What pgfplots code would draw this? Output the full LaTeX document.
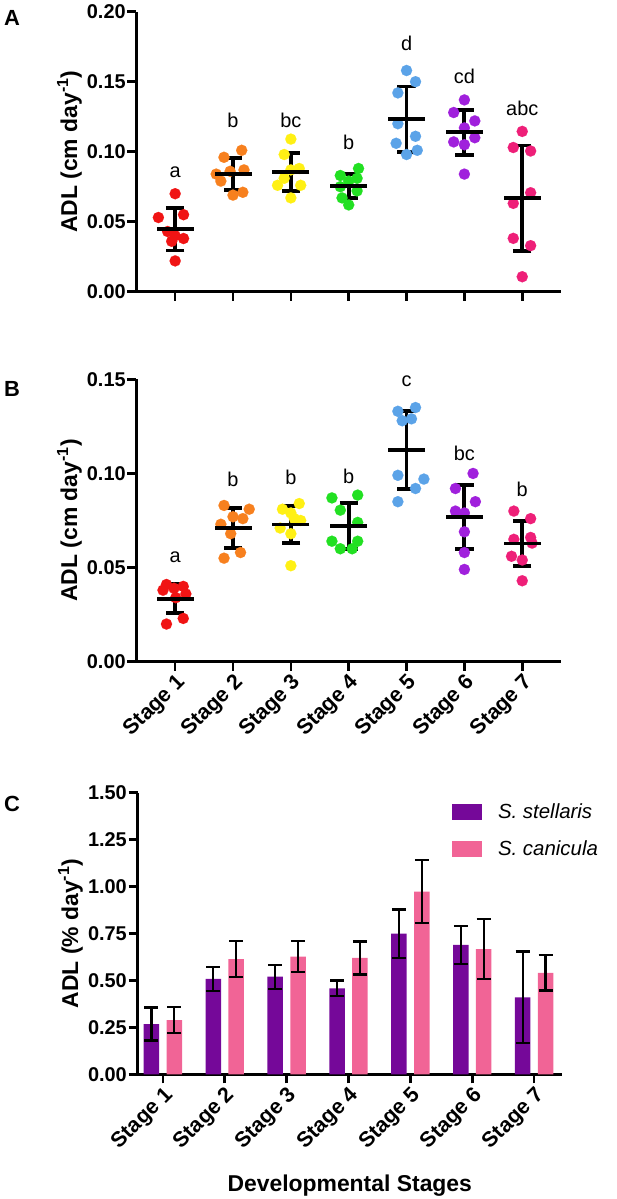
\documentclass[border=0pt]{standalone}
\usepackage{pgfplots}
\pgfplotsset{compat=1.18}
\usepackage{fontspec}
\setmainfont{Liberation Sans}
\definecolor{cRed}{RGB}{240,20,20}
\definecolor{cOrange}{RGB}{247,128,30}
\definecolor{cYellow}{RGB}{255,240,20}
\definecolor{cGreen}{RGB}{34,224,34}
\definecolor{cBlue}{RGB}{91,163,232}
\definecolor{cViolet}{RGB}{160,32,220}
\definecolor{cPink}{RGB}{238,31,120}
\definecolor{barPurple}{RGB}{117,8,153}
\definecolor{barPink}{RGB}{241,100,150}
\newcommand{\fs}[1]{\fontsize{#1}{#1}\selectfont}

% ---------- Panel A data ----------
\pgfplotstableread{
x y
1.00 0.070
0.71 0.053
1.145 0.055
0.87 0.043
1.00 0.040
1.145 0.038
0.94 0.036
1.00 0.022
}\AsOne
\pgfplotstableread{
x y
1.844 0.096
2.15 0.101
1.71 0.084
1.95 0.086
2.19 0.087
1.79 0.079
2.00 0.069
2.17 0.071
}\AsTwo
\pgfplotstableread{
x y
3.00 0.109
2.885 0.098
3.145 0.088
3.00 0.087
2.885 0.081
2.77 0.076
3.17 0.076
3.00 0.067
}\AsThree
\pgfplotstableread{
x y
4.17 0.088
3.855 0.083
4.145 0.081
4.00 0.079
3.855 0.075
4.145 0.072
3.885 0.067
4.00 0.062
}\AsFour
\pgfplotstableread{
x y
5.00 0.158
5.155 0.150
4.85 0.142
4.85 0.120
5.155 0.111
4.82 0.106
5.185 0.101
5.00 0.098
}\AsFive
\pgfplotstableread{
x y
6.00 0.137
5.815 0.128
6.18 0.122
6.00 0.117
6.18 0.110
5.815 0.107
6.00 0.105
6.00 0.084
}\AsSix
\pgfplotstableread{
x y
7.00 0.1145
6.845 0.103
7.145 0.1005
7.145 0.0707
6.845 0.0631
6.845 0.0381
7.145 0.0329
7.00 0.0107
}\AsSeven
\pgfplotstableread{
x y e
1 0.0446 0.0151
2 0.0841 0.0112
3 0.0853 0.0136
4 0.0755 0.0085
5 0.1233 0.0233
6 0.1138 0.0160
7 0.0667 0.0377
}\Ameans

% ---------- Panel B data ----------
\pgfplotstableread{
x y
0.85 0.041
1.14 0.040
0.79 0.038
0.98 0.039
1.185 0.036
1.01 0.034
1.14 0.023
0.85 0.020
}\BsOne
\pgfplotstableread{
x y
1.845 0.083
2.28 0.081
2.00 0.077
2.17 0.076
1.79 0.073
1.96 0.068
2.13 0.058
1.845 0.055
}\BsTwo
\pgfplotstableread{
x y
3.145 0.084
2.855 0.081
3.00 0.079
3.17 0.075
3.06 0.076
2.815 0.071
3.00 0.068
3.00 0.051
}\BsThree
\pgfplotstableread{
x y
3.71 0.087
4.155 0.0885
3.855 0.0805
4.155 0.074
3.71 0.064
4.155 0.064
3.855 0.060
4.06 0.060
}\BsFour
\pgfplotstableread{
x y
4.85 0.133
5.155 0.135
4.925 0.128
5.085 0.129
4.85 0.099
5.30 0.097
5.155 0.092
4.85 0.085
}\BsFive
\pgfplotstableread{
x y
6.15 0.100
5.845 0.092
6.19 0.085
5.845 0.080
6.00 0.079
6.00 0.069
6.00 0.058
6.00 0.049
}\BsSix
\pgfplotstableread{
x y
6.855 0.080
7.145 0.076
6.855 0.065
7.145 0.066
7.17 0.063
6.815 0.056
7.00 0.054
7.00 0.043
}\BsSeven
\pgfplotstableread{
x y e
1 0.0335 0.0076
2 0.0712 0.0106
3 0.0729 0.0100
4 0.0720 0.0122
5 0.1124 0.0208
6 0.0770 0.0170
7 0.0628 0.0118
}\Bmeans

% ---------- Panel C data ----------
\pgfplotstableread{
x y e
1 0.268 0.088
2 0.509 0.064
3 0.520 0.064
4 0.458 0.041
5 0.749 0.129
6 0.689 0.101
7 0.410 0.244
}\Cstel
\pgfplotstableread{
x y e
1 0.289 0.069
2 0.614 0.097
3 0.627 0.082
4 0.620 0.088
5 0.973 0.167
6 0.667 0.161
7 0.540 0.094
}\Ccan

\pgfplotsset{
  panel/.style={
    scale only axis,
    axis x line*=bottom, axis y line*=left,
    axis line style={line width=2.6bp, -},
    every tick/.style={line width=2.6bp, black},
    major tick length=9bp, tick align=outside,
    xtick={1,2,3,4,5,6,7},
    ymin=0, clip=false,
    yticklabel style={font=\bfseries\fs{20}, inner sep=1.5bp,
      /pgf/number format/.cd, fixed, fixed zerofill, precision=2, assume math mode=true},
    xticklabel style={font=\bfseries\fs{21.5}, rotate=45, anchor=north east, inner sep=1bp},
    ylabel style={font=\bfseries\fs{23}, at={(axis description cs:-0.128,0.5)}, anchor=south, inner sep=0pt},
  },
  dots/.style={only marks, mark=*, mark size=5.6bp, color=#1, mark options={draw=#1, fill=#1, line width=0.1bp}},
  meanbar/.style={only marks, mark=-, mark size=18.5bp, black, mark options={line width=3.8bp, black},
    error bars/.cd, y dir=both, y explicit,
    error bar style={line width=3.8bp, black},
    error mark options={rotate=90, mark size=9.2bp, line width=3.8bp, black}},
}

\begin{document}
\begin{tikzpicture}
\useasboundingbox (0,0) rectangle (617bp,-1199bp);

% ---------------- Panel A ----------------
\begin{axis}[panel, at={(136.4bp,-291.7bp)}, anchor=south west,
  width=424.6bp, height=280bp,
  xmin=0.33, xmax=7.67, ymax=0.20,
  ytick={0,0.05,0.10,0.15,0.20},
  xticklabels={},
  ylabel={ADL (cm day\textsuperscript{-1})}]
\addplot[dots=cRed] table[x=x,y=y]{\AsOne};
\addplot[dots=cOrange] table[x=x,y=y]{\AsTwo};
\addplot[dots=cYellow] table[x=x,y=y]{\AsThree};
\addplot[dots=cGreen] table[x=x,y=y]{\AsFour};
\addplot[dots=cBlue] table[x=x,y=y]{\AsFive};
\addplot[dots=cViolet] table[x=x,y=y]{\AsSix};
\addplot[dots=cPink] table[x=x,y=y]{\AsSeven};
\addplot[meanbar] table[x=x,y=y,y error=e]{\Ameans};
\begin{scope}[every node/.style={font=\fs{20}}]
\node at (axis cs:1,0.0855) {a};
\node at (axis cs:2,0.1226) {b};
\node at (axis cs:3,0.1226) {bc};
\node at (axis cs:4,0.1064) {b};
\node at (axis cs:5,0.1774) {d};
\node at (axis cs:6,0.1540) {cd};
\node at (axis cs:7,0.1310) {abc};
\end{scope}
\end{axis}

% ---------------- Panel B ----------------
\begin{axis}[panel, at={(136.4bp,-661.7bp)}, anchor=south west,
  width=424.6bp, height=282.4bp,
  xmin=0.33, xmax=7.67, ymax=0.15,
  ytick={0,0.05,0.10,0.15},
  xticklabels={Stage 1,Stage 2,Stage 3,Stage 4,Stage 5,Stage 6,Stage 7},
  ylabel={ADL (cm day\textsuperscript{-1})}]
\addplot[dots=cRed] table[x=x,y=y]{\BsOne};
\addplot[dots=cOrange] table[x=x,y=y]{\BsTwo};
\addplot[dots=cYellow] table[x=x,y=y]{\BsThree};
\addplot[dots=cGreen] table[x=x,y=y]{\BsFour};
\addplot[dots=cBlue] table[x=x,y=y]{\BsFive};
\addplot[dots=cViolet] table[x=x,y=y]{\BsSix};
\addplot[dots=cPink] table[x=x,y=y]{\BsSeven};
\addplot[meanbar] table[x=x,y=y,y error=e]{\Bmeans};
\begin{scope}[every node/.style={font=\fs{20}}]
\node at (axis cs:1,0.0555) {a};
\node at (axis cs:2,0.0970) {b};
\node at (axis cs:3,0.0977) {b};
\node at (axis cs:4,0.0982) {b};
\node at (axis cs:5,0.1490) {c};
\node at (axis cs:6,0.1107) {bc};
\node at (axis cs:7,0.0916) {b};
\end{scope}
\end{axis}

% ---------------- Panel C ----------------
\begin{axis}[panel, at={(137.5bp,-1074.3bp)}, anchor=south west,
  width=424.5bp, height=281.6bp,
  xmin=0.59, xmax=7.45, ymax=1.5,
  ytick={0,0.25,0.50,0.75,1.00,1.25,1.50},
  xticklabels={Stage 1,Stage 2,Stage 3,Stage 4,Stage 5,Stage 6,Stage 7},
  ylabel={ADL (\% day\textsuperscript{-1})},
  xlabel={Developmental Stages},
  xlabel style={font=\bfseries\fs{23}, at={(axis description cs:0.5,-0.417)}, anchor=base},
  ybar, bar width=0.25,
  legend style={at={(rel axis cs:0.7409,0.9599)}, anchor=north west, draw=none, fill=none,
    inner sep=0pt, outer sep=0pt, row sep=20.7bp, column sep=16bp,
    nodes={inner sep=0pt, font=\itshape\fs{20.5}}},
  legend cell align=left,
  legend image code/.code={\fill[#1, draw=none] (0bp,-8bp) rectangle (30bp,8bp);},
]
\addplot[fill=barPurple, draw=none, bar shift=-0.185,
  error bars/.cd, y dir=both, y explicit,
  error bar style={line width=2.3bp, black},
  error mark options={rotate=90, mark size=7bp, line width=2.3bp, black}]
  table[x=x,y=y,y error=e]{\Cstel};
\addlegendentry{S. stellaris}
\addplot[fill=barPink, draw=none, bar shift=0.185,
  error bars/.cd, y dir=both, y explicit,
  error bar style={line width=2.3bp, black},
  error mark options={rotate=90, mark size=7bp, line width=2.3bp, black}]
  table[x=x,y=y,y error=e]{\Ccan};
\addlegendentry{S. canicula}
\end{axis}

\node[anchor=base west, font=\bfseries\fs{22}, inner sep=0pt] at (4bp,-25bp) {A};
\node[anchor=base west, font=\bfseries\fs{22}, inner sep=0pt] at (4bp,-396bp) {B};
\node[anchor=base west, font=\bfseries\fs{22}, inner sep=0pt] at (4bp,-811bp) {C};
\end{tikzpicture}
\end{document}
